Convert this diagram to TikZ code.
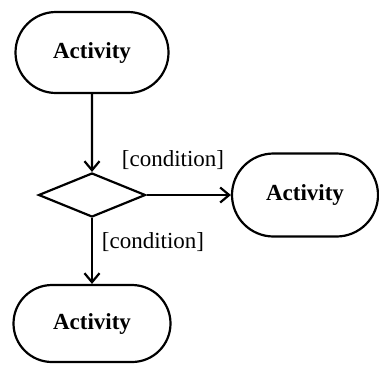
\documentclass[tikz,border=0pt]{standalone}
\usepackage{fontspec}
\setmainfont{Liberation Serif}
\usetikzlibrary{shapes.misc,shapes.geometric,arrows.meta}
\begin{document}
\begin{tikzpicture}[x=1pt,y=-1pt,
  activity/.style={rounded rectangle, draw, line width=2.2pt, inner sep=0pt,
    font=\fontsize{23}{25}\selectfont\bfseries},
  decision/.style={diamond, draw, line width=2.2pt, inner sep=0pt,
    minimum width=107pt, minimum height=44pt},
  flow/.style={draw, line width=2.2pt, -{Straight Barb[length=9pt,width=15pt,line width=2.2pt]}},
  guard/.style={font=\fontsize{23}{25}\selectfont, inner sep=0pt}]
  \useasboundingbox (0,0) rectangle (379,365);
  \node[activity, minimum width=153pt, minimum height=81pt] (a1) at (92,52.5) {Activity};
  \node[decision] (d) at (92,195) {};
  \node[activity, minimum width=146pt, minimum height=83pt] (a2) at (305,195) {Activity};
  \node[activity, minimum width=157pt, minimum height=77pt] (a3) at (92,323.5) {Activity};
  \draw[flow] (a1) -- (d.north);
  \draw[flow] (d.east) -- (a2.west);
  \draw[flow] (d.south) -- (a3.north);
  \node[guard] (g1) at (173,160) {[condition]};
  \node[guard] (g2) at (153,242) {[condition]};
\end{tikzpicture}
\end{document}
